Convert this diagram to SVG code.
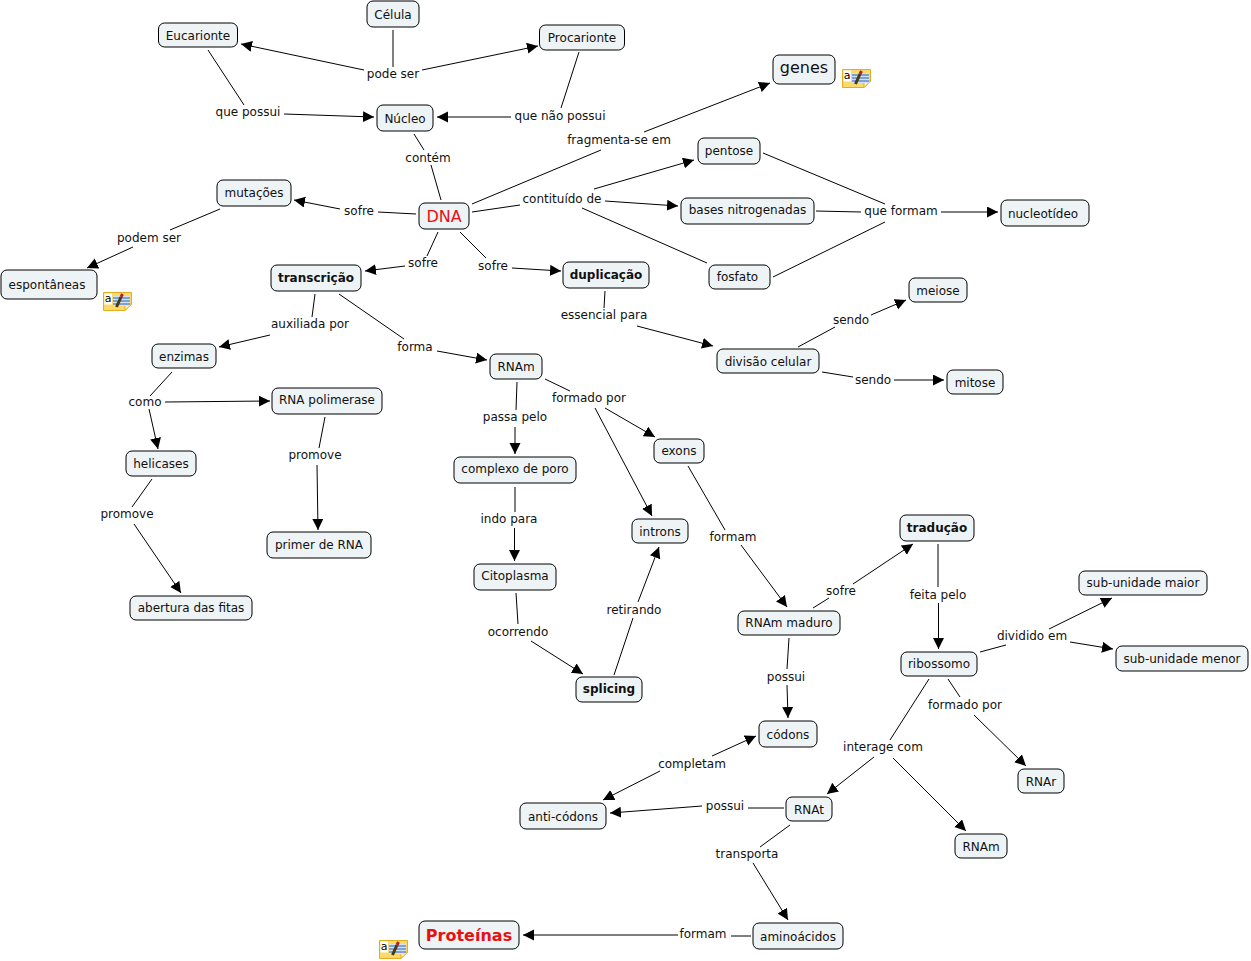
<svg xmlns="http://www.w3.org/2000/svg" xmlns:xlink="http://www.w3.org/1999/xlink" width="1251" height="961" viewBox="0 0 1251 961">
<style>
text{font-family:"DejaVu Sans",Verdana,sans-serif;font-size:12px;fill:#111;text-anchor:middle}
.n rect{fill:#eef3f6;stroke:#000;stroke-width:1}
#connectors line{stroke:#000;stroke-width:1}
#connectors line.a{marker-end:url(#ah)}
.b{font-weight:bold}
</style>
<defs>
<marker id="ah" markerUnits="userSpaceOnUse" markerWidth="12" markerHeight="12" refX="11" refY="5.500" orient="auto"><path d="M0 0L11 5.500L0 11Z" fill="#000"/></marker>
<g id="note">
<path d="M0.500 0.500H28.500V12L22 18.500H0.500Z" fill="#fbd96a" stroke="#e3ad22"/>
<path d="M28.500 12L22 18.500V12Z" fill="#fff6c0" stroke="#e3ad22"/>
<rect x="1.500" y="1.500" width="7.500" height="11" fill="#fff"/>
<rect x="10" y="4" width="17" height="10" fill="#cfe2f7"/>
<path d="M10 6H27M10 9H27M10 12H27" stroke="#2f5fb3"/>
<path d="M13.500 15L18 5" stroke="#4a3a10" stroke-width="3"/>
<path d="M18 5L19.500 2" stroke="#b02020" stroke-width="3"/>
<text x="5" y="10" style="font-size:11px;fill:#000">a</text>
</g>
</defs>
<g id="connectors">
<line x1="393" y1="30" x2="393" y2="67"/>
<line class="a" x1="364" y1="70" x2="241" y2="44"/>
<line class="a" x1="422" y1="70" x2="538" y2="46"/>
<line x1="208" y1="50" x2="244" y2="105"/>
<line class="a" x1="284" y1="114" x2="374" y2="117"/>
<line x1="579" y1="52" x2="561" y2="108"/>
<line class="a" x1="511" y1="117" x2="437" y2="117"/>
<line x1="414" y1="134" x2="424" y2="150"/>
<line x1="431" y1="165" x2="441" y2="200"/>
<line x1="472" y1="204" x2="601" y2="150"/>
<line class="a" x1="644" y1="132" x2="770" y2="83"/>
<line x1="472" y1="212" x2="520" y2="205"/>
<line class="a" x1="594" y1="189" x2="694" y2="160"/>
<line class="a" x1="605" y1="201" x2="678" y2="206"/>
<line x1="582" y1="208" x2="707" y2="263"/>
<line x1="763" y1="153" x2="885" y2="204"/>
<line x1="816" y1="211" x2="861" y2="212"/>
<line x1="773" y1="277" x2="885" y2="222"/>
<line class="a" x1="941" y1="212" x2="998" y2="212"/>
<line x1="416" y1="214" x2="378" y2="212"/>
<line class="a" x1="340" y1="209" x2="294" y2="200"/>
<line x1="220" y1="209" x2="170" y2="230"/>
<line class="a" x1="133" y1="247" x2="87" y2="268"/>
<line x1="438" y1="232" x2="427" y2="256"/>
<line class="a" x1="405" y1="266" x2="365" y2="271"/>
<line x1="460" y1="232" x2="486" y2="258"/>
<line class="a" x1="512" y1="268" x2="561" y2="271"/>
<line x1="605" y1="291" x2="604" y2="308"/>
<line class="a" x1="637" y1="326" x2="713" y2="346"/>
<line x1="798" y1="347" x2="835" y2="327"/>
<line class="a" x1="871" y1="315" x2="906" y2="300"/>
<line x1="822" y1="372" x2="853" y2="377"/>
<line class="a" x1="894" y1="380" x2="944" y2="380"/>
<line x1="315" y1="294" x2="312" y2="317"/>
<line class="a" x1="270" y1="335" x2="219" y2="347"/>
<line x1="339" y1="294" x2="404" y2="339"/>
<line class="a" x1="437" y1="351" x2="487" y2="360"/>
<line x1="172" y1="372" x2="150" y2="396"/>
<line class="a" x1="165" y1="402" x2="270" y2="401"/>
<line class="a" x1="149" y1="409" x2="158" y2="449"/>
<line x1="152" y1="479" x2="132" y2="507"/>
<line class="a" x1="134" y1="524" x2="181" y2="593"/>
<line x1="325" y1="417" x2="319" y2="448"/>
<line class="a" x1="317" y1="465" x2="318" y2="530"/>
<line x1="517" y1="382" x2="516" y2="410"/>
<line class="a" x1="515" y1="427" x2="515" y2="454"/>
<line x1="545" y1="379" x2="570" y2="391"/>
<line class="a" x1="605" y1="408" x2="655" y2="437"/>
<line class="a" x1="595" y1="408" x2="652" y2="516"/>
<line x1="515" y1="487" x2="515" y2="512"/>
<line class="a" x1="514.500" y1="528" x2="514.500" y2="561"/>
<line x1="516" y1="593" x2="518" y2="624"/>
<line class="a" x1="531" y1="641" x2="583" y2="674"/>
<line x1="614" y1="675" x2="633" y2="618"/>
<line class="a" x1="638" y1="602" x2="659" y2="547"/>
<line x1="688" y1="466" x2="725" y2="530"/>
<line class="a" x1="741" y1="545" x2="787" y2="607"/>
<line x1="813" y1="608" x2="829" y2="598"/>
<line class="a" x1="853" y1="584" x2="913" y2="544"/>
<line x1="938" y1="544" x2="938" y2="587"/>
<line class="a" x1="938.500" y1="603" x2="938.500" y2="649"/>
<line x1="980" y1="652" x2="1006" y2="645"/>
<line class="a" x1="1049" y1="629" x2="1112" y2="598"/>
<line class="a" x1="1070" y1="642" x2="1113" y2="649"/>
<line x1="948" y1="679" x2="960" y2="697"/>
<line class="a" x1="974" y1="715" x2="1026" y2="766"/>
<line x1="929" y1="679" x2="890" y2="740"/>
<line class="a" x1="874" y1="757" x2="827" y2="794"/>
<line class="a" x1="893" y1="758" x2="966" y2="831"/>
<line x1="789" y1="638" x2="787" y2="669"/>
<line class="a" x1="787" y1="685" x2="788" y2="718"/>
<line class="a" x1="712" y1="756" x2="756" y2="736"/>
<line class="a" x1="660" y1="771" x2="603" y2="800"/>
<line x1="784" y1="808" x2="748" y2="808"/>
<line class="a" x1="702" y1="806" x2="610" y2="813"/>
<line x1="790" y1="825" x2="760" y2="847"/>
<line class="a" x1="753" y1="863" x2="788" y2="920"/>
<line x1="751" y1="936" x2="731" y2="936"/>
<line class="a" x1="678" y1="935" x2="523" y2="935"/>
</g>
<g id="labels">
<text x="393" y="78">pode ser</text>
<text x="248" y="116">que possui</text>
<text x="560" y="120">que não possui</text>
<text x="428" y="162">contém</text>
<text x="619" y="144">fragmenta-se em</text>
<text x="562" y="203">contituído de</text>
<text x="901" y="215">que formam</text>
<text x="359" y="215">sofre</text>
<text x="149" y="242">podem ser</text>
<text x="423" y="267">sofre</text>
<text x="493" y="270">sofre</text>
<text x="604" y="319">essencial para</text>
<text x="851" y="324">sendo</text>
<text x="873" y="384">sendo</text>
<text x="310" y="328">auxiliada por</text>
<text x="415" y="351">forma</text>
<text x="145" y="406">como</text>
<text x="127" y="518">promove</text>
<text x="315" y="459">promove</text>
<text x="515" y="421">passa pelo</text>
<text x="589" y="402">formado por</text>
<text x="509" y="523">indo para</text>
<text x="518" y="636">ocorrendo</text>
<text x="634" y="614">retirando</text>
<text x="733" y="541">formam</text>
<text x="841" y="595">sofre</text>
<text x="938" y="599">feita pelo</text>
<text x="1032" y="640">dividido em</text>
<text x="965" y="709">formado por</text>
<text x="883" y="751">interage com</text>
<text x="786" y="681">possui</text>
<text x="692" y="768">completam</text>
<text x="725" y="810">possui</text>
<text x="747" y="858">transporta</text>
<text x="703" y="938">formam</text>
</g>
<g id="n-celula" class="n"><rect x="367" y="1" width="52" height="26" rx="6"/><text x="393" y="19">Célula</text></g>
<g id="n-eucarionte" class="n"><rect x="158.500" y="23" width="79" height="24" rx="6"/><text x="198" y="40">Eucarionte</text></g>
<g id="n-procarionte" class="n"><rect x="539.500" y="25" width="85" height="25" rx="6"/><text x="582" y="42">Procarionte</text></g>
<g id="n-nucleo" class="n"><rect x="377" y="105" width="56" height="26" rx="6"/><text x="405" y="123">Núcleo</text></g>
<g id="n-genes" class="n"><rect x="773" y="55" width="62" height="29" rx="6"/><text x="804" y="73" style="font-size:16px">genes</text></g>
<use xlink:href="#note" x="842" y="69"/>
<g id="n-pentose" class="n"><rect x="698" y="138" width="62" height="26" rx="6"/><text x="729" y="155">pentose</text></g>
<g id="n-bases" class="n"><rect x="681" y="198" width="133" height="26" rx="6"/><text x="747.500" y="214">bases nitrogenadas</text></g>
<g id="n-nucleotideo" class="n"><rect x="1001" y="200" width="88" height="26" rx="6"/><text x="1043" y="218">nucleotídeo</text></g>
<g id="n-fosfato" class="n"><rect x="709" y="265" width="61" height="24" rx="6"/><text x="737.500" y="281">fosfato</text></g>
<g id="n-dna" class="n"><rect x="419" y="203" width="50" height="26" rx="6"/><text x="444" y="222" style="font-size:16px;fill:#e81010">DNA</text></g>
<g id="n-mutacoes" class="n"><rect x="217" y="180" width="74" height="26" rx="6"/><text x="254" y="197">mutações</text></g>
<g id="n-espontaneas" class="n"><rect x="1" y="270" width="96" height="29" rx="6"/><text x="47" y="289">espontâneas</text></g>
<use xlink:href="#note" x="103" y="292"/>
<g id="n-transcricao" class="n"><rect x="271" y="265" width="90" height="26" rx="6"/><text class="b" x="316" y="282">transcrição</text></g>
<g id="n-duplicacao" class="n"><rect x="563" y="262" width="86" height="26" rx="6"/><text class="b" x="606" y="279">duplicação</text></g>
<g id="n-meiose" class="n"><rect x="909" y="278" width="58" height="24" rx="6"/><text x="938" y="295">meiose</text></g>
<g id="n-divisao" class="n"><rect x="717" y="349" width="102" height="24" rx="6"/><text x="768" y="366">divisão celular</text></g>
<g id="n-mitose" class="n"><rect x="947" y="370" width="56" height="24" rx="6"/><text x="975" y="387">mitose</text></g>
<g id="n-enzimas" class="n"><rect x="152" y="344" width="64" height="24" rx="6"/><text x="184" y="361">enzimas</text></g>
<g id="n-rnam1" class="n"><rect x="490" y="354" width="52" height="25" rx="6"/><text x="516" y="371">RNAm</text></g>
<g id="n-rnapol" class="n"><rect x="272" y="388" width="110" height="26" rx="6"/><text x="327" y="404">RNA polimerase</text></g>
<g id="n-exons" class="n"><rect x="654" y="439" width="50" height="24" rx="6"/><text x="679" y="455">exons</text></g>
<g id="n-helicases" class="n"><rect x="126" y="451" width="70" height="25" rx="6"/><text x="161" y="468">helicases</text></g>
<g id="n-complexo" class="n"><rect x="454" y="457" width="122" height="26" rx="6"/><text x="515" y="473">complexo de poro</text></g>
<g id="n-introns" class="n"><rect x="632" y="519" width="56" height="24" rx="6"/><text x="660" y="536">introns</text></g>
<g id="n-primer" class="n"><rect x="267" y="532" width="104" height="26" rx="6"/><text x="319" y="549">primer de RNA</text></g>
<g id="n-citoplasma" class="n"><rect x="474" y="564" width="82" height="26" rx="6"/><text x="515" y="580">Citoplasma</text></g>
<g id="n-abertura" class="n"><rect x="130" y="596" width="122" height="24" rx="6"/><text x="191" y="612">abertura das fitas</text></g>
<g id="n-traducao" class="n"><rect x="900" y="515" width="74" height="26" rx="6"/><text class="b" x="937" y="532">tradução</text></g>
<g id="n-maior" class="n"><rect x="1079" y="571" width="128" height="24" rx="6"/><text x="1143" y="587">sub-unidade maior</text></g>
<g id="n-maduro" class="n"><rect x="738" y="611" width="102" height="24" rx="6"/><text x="789" y="627">RNAm maduro</text></g>
<g id="n-menor" class="n"><rect x="1116" y="646" width="132" height="25" rx="6"/><text x="1182" y="663">sub-unidade menor</text></g>
<g id="n-ribossomo" class="n"><rect x="901" y="652" width="76" height="24" rx="6"/><text x="939" y="668">ribossomo</text></g>
<g id="n-splicing" class="n"><rect x="576" y="677" width="66" height="25" rx="6"/><text class="b" x="609" y="693">splicing</text></g>
<g id="n-codons" class="n"><rect x="759" y="721" width="58" height="26" rx="6"/><text x="788" y="739">códons</text></g>
<g id="n-rnar" class="n"><rect x="1018" y="769" width="46" height="24" rx="6"/><text x="1041" y="786">RNAr</text></g>
<g id="n-rnat" class="n"><rect x="786" y="797" width="46" height="24" rx="6"/><text x="809" y="814">RNAt</text></g>
<g id="n-anti" class="n"><rect x="520" y="803" width="86" height="26" rx="6"/><text x="563" y="821">anti-códons</text></g>
<g id="n-rnam2" class="n"><rect x="955" y="834" width="52" height="24" rx="6"/><text x="981" y="851">RNAm</text></g>
<g id="n-proteinas" class="n"><rect x="419" y="921" width="100" height="28" rx="6"/><text class="b" x="469" y="941" style="font-size:16px;fill:#e81010">Proteínas</text></g>
<use xlink:href="#note" x="379" y="940"/>
<g id="n-aminoacidos" class="n"><rect x="753" y="923" width="90" height="26" rx="6"/><text x="798" y="941">aminoácidos</text></g>
</svg>
